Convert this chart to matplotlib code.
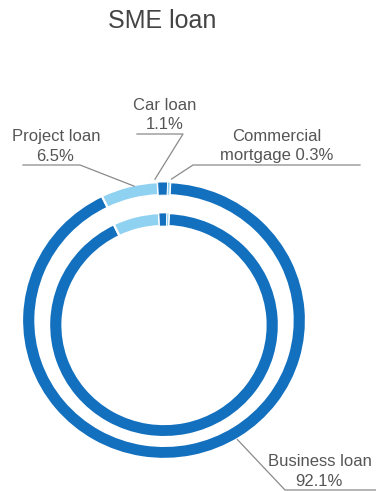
import matplotlib.pyplot as plt
from matplotlib.lines import Line2D
from matplotlib.transforms import IdentityTransform
import numpy as np

plt.rcParams["font.family"] = ["Liberation Sans", "DejaVu Sans"]

# SME loan mix (%)
categories = ["Business loan", "Project loan", "Car loan", "Commercial\nmortgage"]
shares = [92.1, 6.5, 1.1, 0.3]
share_labels = ["92.1%", "6.5%", "1.1%", "0.3%"]
colors = ["#1270be", "#8fd1f1", "#1270be", "#8fd1f1"]

W, H = 376, 491
TEXT = "#555555"
LINE = "#8a8a8a"

fig = plt.figure(figsize=(W / 100, H / 100), dpi=100)


def fx(x):
    return x / W


def fy(y):
    return 1 - y / H


# ring axes: outer circle spans this pixel box
ax = fig.add_axes([fx(23), fy(458), (305 - 23) / W, (458 - 183) / H])

start = 87.5
ring_w = 0.095
rings = [(1.007, (0, 0)), (0.815, (0, -0.033))]
outer_wedges = None
for radius, center in rings:
    wedges, _ = ax.pie(shares, colors=colors, startangle=start, counterclock=False,
                       radius=radius, center=center,
                       wedgeprops=dict(width=ring_w, edgecolor="white", linewidth=1.6))
    # keep the thin slices visible between the gaps
    for w, v in zip(wedges, shares):
        if v < 2:
            w.set_linewidth(0.6)
            w.set_zorder(3)
    if outer_wedges is None:
        outer_wedges = wedges
ax.set_aspect("auto")
ax.set_xlim(-1, 1)
ax.set_ylim(-1, 1)
ax.axis("off")


def ring_point(theta_deg, r=1.03):
    t = np.deg2rad(theta_deg)
    disp = ax.transData.transform((r * np.cos(t), r * np.sin(t)))
    return disp[0], disp[1]


def mid_angle(w):
    return (w.theta1 + w.theta2) / 2


def leader(points_img, end_disp):
    xs = [p[0] for p in points_img] + [end_disp[0]]
    ys = [H - p[1] for p in points_img] + [end_disp[1]]
    fig.add_artist(Line2D(xs, ys, color=LINE, lw=0.9, transform=IdentityTransform()))


fig.text(fx(162), fy(28), "SME loan", ha="center", va="baseline",
         fontsize=18, color="#444444")

# Project loan
fig.text(fx(56), fy(141), categories[1], ha="center", va="baseline", fontsize=12, color=TEXT)
fig.text(fx(55), fy(161), share_labels[1], ha="center", va="baseline", fontsize=12, color=TEXT)
leader([(23, 165), (80, 165)], ring_point(mid_angle(outer_wedges[1]) - 2, 1.0))

# Car loan
fig.text(fx(165), fy(110), categories[2], ha="center", va="baseline", fontsize=12, color=TEXT)
fig.text(fx(165), fy(129), share_labels[2], ha="center", va="baseline", fontsize=12, color=TEXT)
leader([(137, 134), (183, 134)], ring_point(mid_angle(outer_wedges[2]) + 3))

# Commercial mortgage
fig.text(fx(277), fy(141), "Commercial", ha="center", va="baseline", fontsize=12, color=TEXT)
fig.text(fx(277), fy(160), "mortgage " + share_labels[3], ha="center", va="baseline",
         fontsize=12, color=TEXT)
leader([(360, 165), (193, 165)], ring_point(mid_angle(outer_wedges[3]) - 1))

# Business loan
fig.text(fx(320), fy(466), categories[0], ha="center", va="baseline", fontsize=12, color=TEXT)
fig.text(fx(319), fy(486), share_labels[0], ha="center", va="baseline", fontsize=12, color=TEXT)
leader([(376, 490), (285, 490)], ring_point(-59, 1.01))

fig.savefig("out.png", dpi=100)
